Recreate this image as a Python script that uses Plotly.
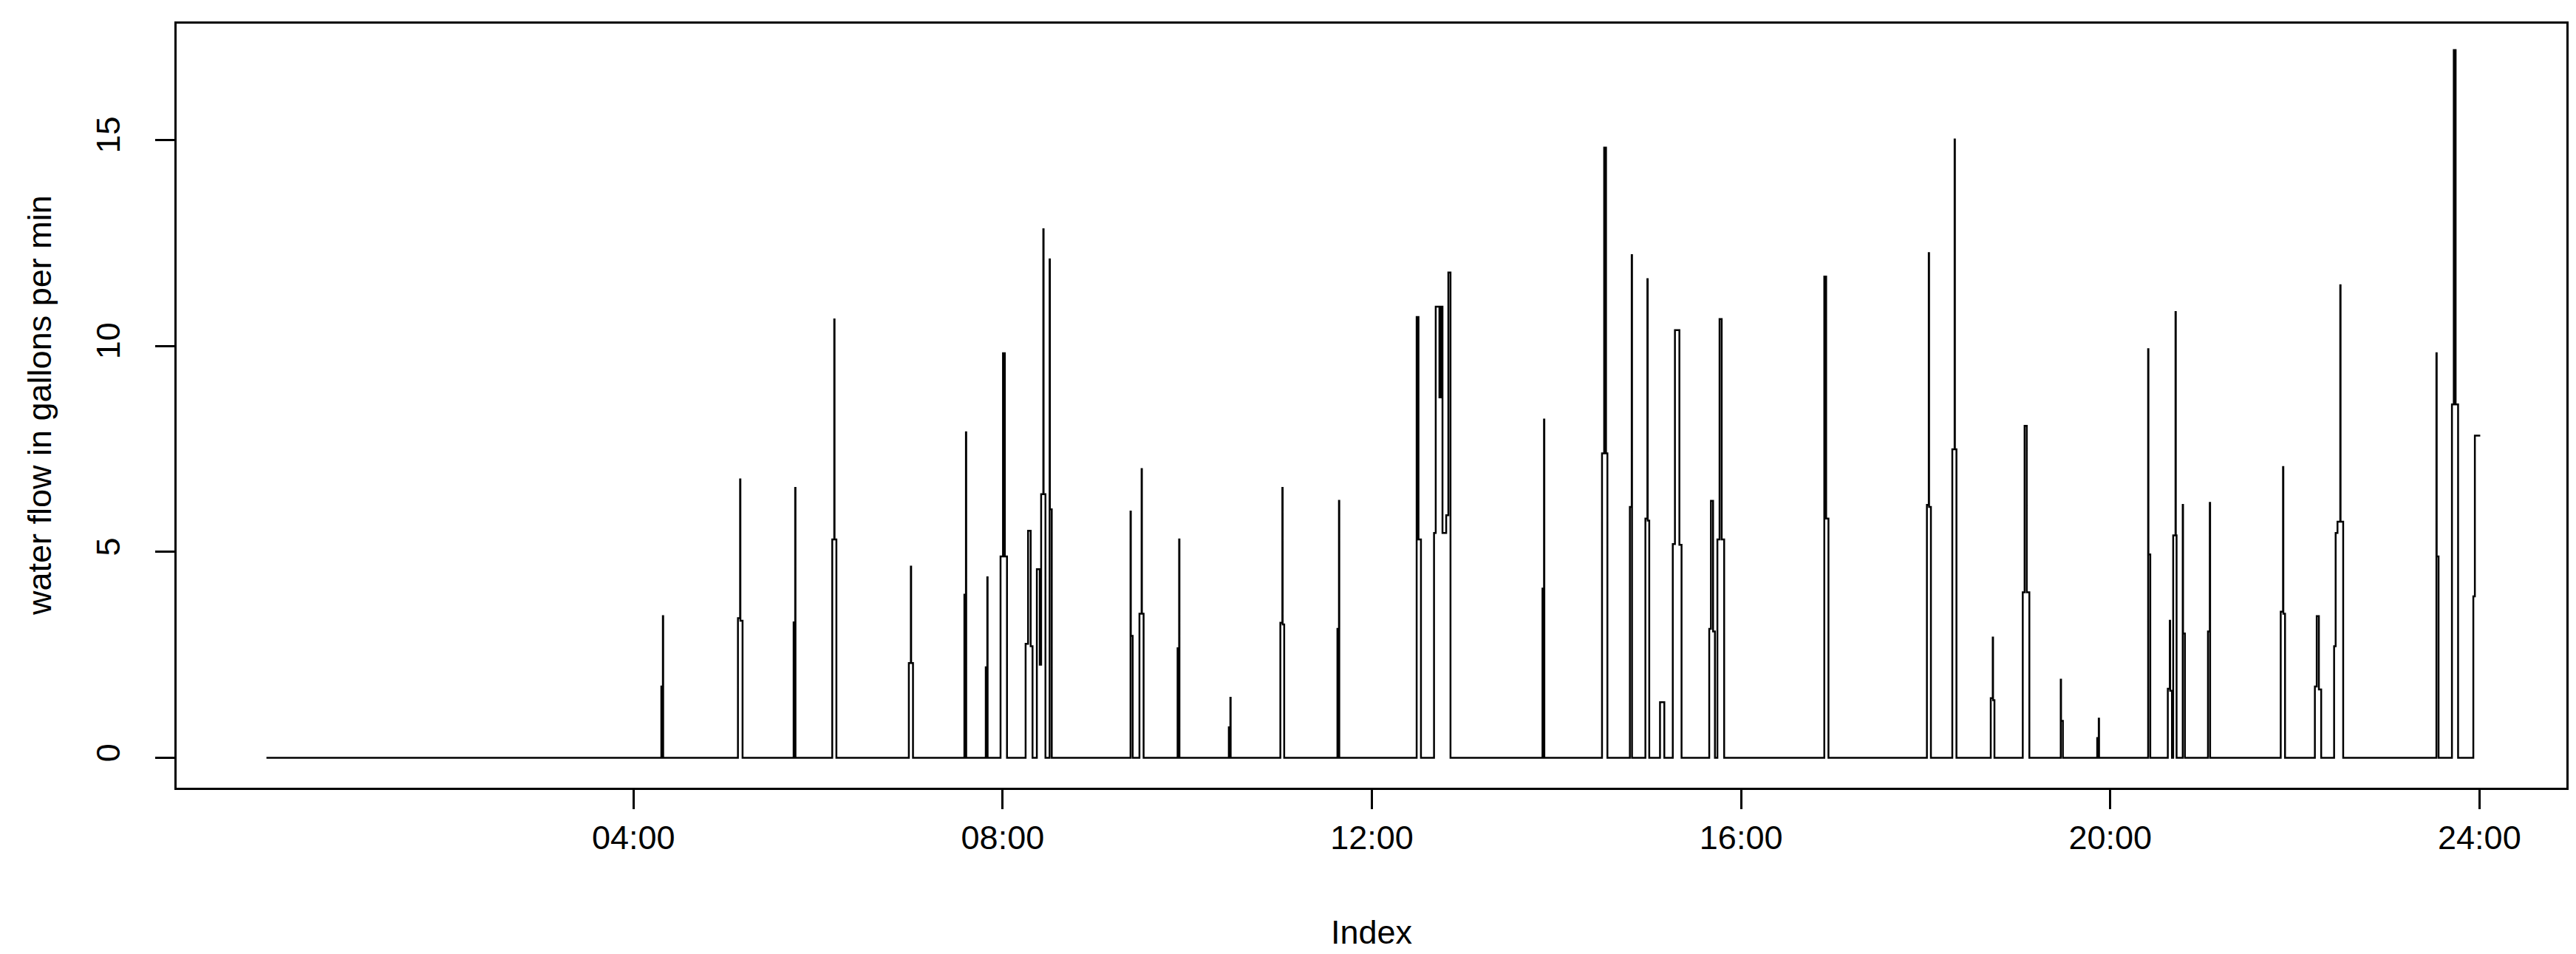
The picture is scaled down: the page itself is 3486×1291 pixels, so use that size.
import plotly.graph_objects as go

# Water flow readings (change points of a step series), time in minutes since midnight
t_min = [
    1.4,
    258.1, 259.1, 259.3,
    307.9, 309.3, 309.5, 310.9,
    344.1, 345.1, 345.3,
    369.2, 370.5, 370.7, 371.9,
    419.0, 420.3, 420.5, 421.7,
    455.1, 456.1, 456.3,
    469.0, 470.0, 470.2,
    478.6, 480.2, 481.4, 482.8,
    494.9, 496.5, 498.2, 499.4,
    502.2, 504.1, 505.0, 506.4, 506.6, 507.8,
    510.5, 510.7, 511.9,
    563.1, 563.3, 564.5,
    568.9, 570.3, 570.5, 571.6,
    593.7, 594.7, 594.9,
    627.0, 628.0, 628.2,
    660.5, 661.8, 662.0, 663.0,
    697.6, 698.6, 698.8,
    749.1, 750.3, 751.9,
    760.4, 761.5, 763.9, 765.0, 765.9, 768.3, 769.7, 771.1,
    830.9, 831.9, 832.1,
    869.6, 871.0, 872.2, 873.1,
    887.7, 888.9, 889.1,
    897.8, 899.1, 899.3, 900.3,
    907.3, 910.1,
    915.6, 917.0, 919.9, 921.3,
    939.3, 940.4, 941.8, 943.0, 944.6, 946.0, 947.4, 949.0,
    1014.1, 1015.3, 1016.8,
    1080.8, 1082.0, 1082.2, 1083.4,
    1097.3, 1098.8, 1099.0, 1100.0,
    1122.3, 1123.6, 1123.8, 1124.7,
    1143.1, 1144.3, 1145.7, 1147.4,
    1167.8, 1168.0, 1169.2,
    1191.5, 1192.5, 1192.7,
    1224.6, 1224.8, 1226.0,
    1237.4, 1238.7, 1238.9, 1240.1, 1240.9, 1242.4, 1242.6, 1243.1,
    1247.1, 1247.3, 1248.5,
    1263.5, 1264.7, 1264.9,
    1310.8, 1312.3, 1312.5, 1313.6,
    1333.0, 1334.2, 1335.6, 1337.1,
    1345.5, 1346.5, 1347.7, 1349.5, 1349.7, 1351.4,
    1412.0, 1412.2, 1413.4,
    1422.1, 1423.3, 1424.5, 1426.1,
    1436.0, 1437.0, 1440.5,
]

flow_gpm = [
    0,
    1.73, 3.44, 0,
    3.39, 6.76, 3.33, 0,
    3.29, 6.55, 0,
    5.30, 10.64, 5.30, 0,
    2.30, 4.64, 2.30, 0,
    3.96, 7.90, 0,
    2.20, 4.38, 0,
    4.89, 9.82, 4.89, 0,
    2.77, 5.51, 2.71, 0,
    4.58, 2.26, 6.40, 12.83, 6.40, 0,
    12.10, 6.03, 0,
    5.98, 2.96, 0,
    3.50, 7.01, 3.50, 0,
    2.66, 5.30, 0,
    0.74, 1.46, 0,
    3.28, 6.55, 3.24, 0,
    3.13, 6.24, 0,
    10.70, 5.30, 0,
    5.46, 10.95, 8.75, 10.95, 5.46, 5.89, 11.78, 0,
    4.11, 8.21, 0,
    7.39, 14.81, 7.39, 0,
    6.09, 12.20, 0,
    5.81, 11.62, 5.76, 0,
    1.35, 0,
    5.19, 10.38, 5.17, 0,
    3.13, 6.24, 3.07, 0, 5.30, 10.65, 5.30, 0,
    11.68, 5.81, 0,
    6.14, 12.25, 6.09, 0,
    7.49, 15.01, 7.49, 0,
    1.45, 2.92, 1.40, 0,
    4.02, 8.06, 4.02, 0,
    1.90, 0.90, 0,
    0.48, 0.95, 0,
    9.92, 4.94, 0,
    1.68, 3.33, 1.63, 0, 5.40, 10.82, 5.40, 0,
    6.14, 3.02, 0,
    3.07, 6.19, 0,
    3.55, 7.06, 3.50, 0,
    1.73, 3.44, 1.66, 0,
    2.71, 5.46, 5.73, 11.47, 5.73, 0,
    9.82, 4.89, 0,
    8.58, 17.18, 8.58, 0,
    3.92, 7.82, 7.82,
]

x_tick_vals = [240, 480, 720, 960, 1200, 1440]
x_tick_text = ["04:00", "08:00", "12:00", "16:00", "20:00", "24:00"]
y_tick_vals = [0, 5, 10, 15]

FONT = "Liberation Sans, Arial, sans-serif"
FSIZE = 45

fig = go.Figure()
fig.add_trace(go.Scatter(
    x=t_min, y=flow_gpm, mode="lines",
    line=dict(color="black", width=2.5, shape="hv"),
    showlegend=False, hoverinfo="skip",
))

axis_common = dict(
    showgrid=False, zeroline=False, showline=True, mirror=True,
    linecolor="black", linewidth=2.5,
    ticks="outside", ticklen=26, tickwidth=2.5, tickcolor="black",
    tickfont=dict(family=FONT, size=FSIZE, color="black"),
)

fig.update_xaxes(range=[-57.0, 1496.5], tickmode="array",
                 tickvals=x_tick_vals, ticktext=x_tick_text, **axis_common)
fig.update_yaxes(range=[-0.725, 17.82], tickmode="array",
                 tickvals=y_tick_vals, ticktext=[str(v) for v in y_tick_vals],
                 tickangle=-90, ticklabelstandoff=30, **axis_common)

fig.update_layout(
    width=3486, height=1291,
    margin=dict(l=231, r=21, t=24, b=233),
    paper_bgcolor="white", plot_bgcolor="white",
    annotations=[
        dict(text="Index", xref="paper", yref="paper", x=0.5, y=-0.1888,
             xanchor="center", yanchor="middle", showarrow=False,
             font=dict(family=FONT, size=FSIZE, color="black")),
        dict(text="water flow in gallons per min", xref="paper", yref="paper",
             x=-0.0575, y=0.5, xanchor="center", yanchor="middle",
             textangle=-90, showarrow=False,
             font=dict(family=FONT, size=FSIZE, color="black")),
    ],
)

fig.write_html("out.html")
